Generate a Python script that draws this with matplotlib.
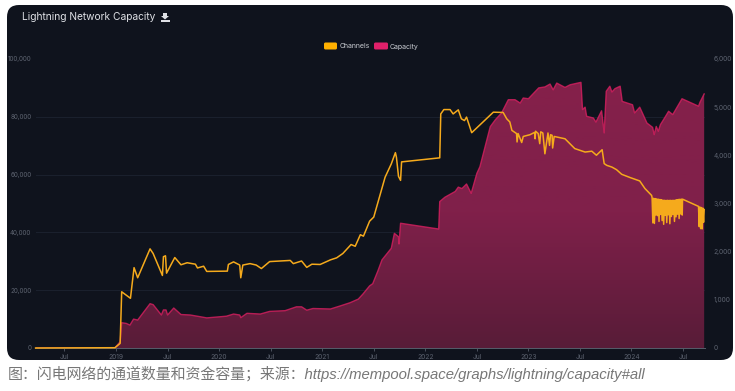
import matplotlib
matplotlib.use('Agg')
import matplotlib.pyplot as plt
import matplotlib.transforms as mtransforms
from matplotlib.colors import LinearSegmentedColormap
from matplotlib.patches import FancyBboxPatch, Polygon
import numpy as np

# decimal years / number of channels
channel_years = [
    2018.22, 2018.99, 2019.04, 2019.055, 2019.14, 2019.175, 2019.21, 2019.33, 2019.36, 2019.45,
    2019.46, 2019.48, 2019.49, 2019.57, 2019.63, 2019.69, 2019.77, 2019.79, 2019.85, 2019.88,
    2020.08, 2020.09, 2020.14, 2020.20, 2020.21, 2020.23, 2020.30, 2020.36, 2020.41, 2020.49,
    2020.69, 2020.72, 2020.80, 2020.85, 2020.90, 2020.98, 2021.08, 2021.14, 2021.20, 2021.28,
    2021.32, 2021.37, 2021.40, 2021.46, 2021.50, 2021.61, 2021.67, 2021.71, 2021.72, 2021.74,
    2021.76, 2021.77, 2022.14, 2022.15, 2022.18, 2022.24, 2022.27, 2022.32, 2022.35, 2022.38,
    2022.40, 2022.45, 2022.66, 2022.755, 2022.79, 2022.82, 2022.84, 2022.885, 2022.89, 2022.90,
    2022.935, 2022.95, 2023.015, 2023.06, 2023.065, 2023.07, 2023.095, 2023.11, 2023.12, 2023.14,
    2023.16, 2023.19, 2023.205, 2023.215, 2023.23, 2023.235, 2023.25, 2023.355, 2023.45, 2023.55,
    2023.615, 2023.66, 2023.715, 2023.735, 2023.76, 2023.81, 2023.855, 2023.905, 2023.985, 2024.08,
    2024.13, 2024.195,
]
channel_values = [
    0, 100, 1600, 19450, 17200, 27800, 24300, 34300, 32700, 25100,
    31600, 31900, 25900, 31300, 28800, 29500, 29000, 27700, 28300, 26500,
    26600, 28900, 29800, 28700, 24300, 28700, 29200, 28700, 27500, 29900,
    30300, 29200, 30100, 27900, 29000, 28900, 30500, 31200, 32700, 35800,
    35200, 39200, 38700, 43900, 45300, 59100, 63700, 67600, 66000, 59400,
    58000, 64400, 65800, 81000, 82500, 82500, 81000, 82400, 79300, 78700,
    79900, 74500, 81600, 81500, 79300, 78200, 75300, 74200, 71300, 74200,
    71100, 73200, 73800, 74600, 72400, 75000, 74200, 70700, 74800, 74400,
    67200, 74400, 70100, 73800, 73600, 69200, 73200, 72400, 69000, 67800,
    68100, 66700, 68600, 63800, 63200, 62600, 61700, 60100, 59000, 57800,
    55200, 52800,
]
# the noisy stretches in 2024
band_years = [
    2024.200, 2024.207, 2024.215, 2024.222, 2024.230, 2024.237, 2024.245, 2024.252, 2024.260, 2024.267,
    2024.275, 2024.282, 2024.290, 2024.297, 2024.305, 2024.312, 2024.320, 2024.327, 2024.335, 2024.342,
    2024.350, 2024.357, 2024.365, 2024.372, 2024.380, 2024.387, 2024.395, 2024.402, 2024.410, 2024.417,
    2024.425, 2024.432, 2024.440, 2024.447, 2024.455, 2024.462, 2024.470, 2024.477, 2024.485, 2024.492,
    2024.495, 2024.650, 2024.657, 2024.664, 2024.671, 2024.678, 2024.685, 2024.692, 2024.699, 2024.705,
]
band_values = [
    52000, 43300, 51800, 43100, 51700, 46000, 51600, 45800, 51500, 43800,
    51400, 46200, 51300, 44100, 51200, 42800, 51100, 45900, 51100, 43400,
    51100, 46100, 51100, 43000, 51100, 45500, 51100, 46200, 51100, 43800,
    51200, 45400, 51300, 46300, 51400, 44800, 51500, 46400, 51500, 46000,
    51500, 49000, 42000, 48800, 41300, 48600, 41200, 48400, 43500, 47900,
]

# capacity in BTC
capacity_years = [
    2018.22, 2018.99, 2019.04, 2019.055, 2019.10, 2019.135, 2019.17, 2019.21, 2019.33, 2019.36,
    2019.44, 2019.46, 2019.485, 2019.50, 2019.56, 2019.63, 2019.72, 2019.815, 2019.88, 2020.07,
    2020.14, 2020.20, 2020.21, 2020.27, 2020.40, 2020.49, 2020.64, 2020.75, 2020.80, 2020.85,
    2020.91, 2021.08, 2021.17, 2021.27, 2021.35, 2021.395, 2021.46, 2021.49, 2021.54, 2021.58,
    2021.67, 2021.70, 2021.74, 2021.745, 2021.76, 2022.13, 2022.14, 2022.19, 2022.29, 2022.32,
    2022.355, 2022.40, 2022.445, 2022.50, 2022.53, 2022.63, 2022.68, 2022.74, 2022.805, 2022.87,
    2022.92, 2022.95, 2023.00, 2023.10, 2023.16, 2023.21, 2023.24, 2023.275, 2023.355, 2023.405,
    2023.51, 2023.525, 2023.55, 2023.565, 2023.63, 2023.655, 2023.71, 2023.735, 2023.755, 2023.79,
    2023.81, 2023.84, 2023.89, 2023.91, 2024.01, 2024.03, 2024.08, 2024.15, 2024.205, 2024.22,
    2024.24, 2024.26, 2024.28, 2024.325, 2024.36, 2024.40, 2024.49, 2024.65, 2024.665, 2024.705,
]
capacity_values = [
    0, 6, 130, 525, 510, 475, 600, 580, 920, 900,
    685, 790, 790, 685, 830, 695, 685, 650, 625, 660,
    705, 685, 630, 720, 705, 760, 775, 855, 855, 785,
    820, 810, 870, 940, 1015, 1120, 1290, 1335, 1600, 1830,
    2070, 2380, 2310, 2160, 2590, 2470, 3040, 3130, 3250, 3340,
    3310, 3405, 3210, 3625, 3765, 4595, 4740, 4880, 5155, 5155,
    5085, 5190, 5175, 5400, 5420, 5480, 5360, 5500, 5410, 5465,
    5515, 4950, 5000, 4810, 4775, 4690, 4925, 4465, 5330, 5435,
    5315, 5385, 5435, 5120, 5050, 4880, 5000, 4670, 4580, 4430,
    4600, 4500, 4635, 4790, 4915, 4845, 5175, 5020, 5105, 5275,
]

x_ticks = [2018.5, 2019, 2019.5, 2020, 2020.5, 2021, 2021.5, 2022, 2022.5, 2023, 2023.5, 2024, 2024.5]
x_labels = ['Jul', '2019', 'Jul', '2020', 'Jul', '2021', 'Jul', '2022', 'Jul', '2023', 'Jul', '2024', 'Jul']
channel_ticks = [0, 20000, 40000, 60000, 80000, 100000]
capacity_ticks = [0, 1000, 2000, 3000, 4000, 5000, 6000]

BG = '#0f131d'
TICK_COLOR = '#5d6370'
YELLOW = '#f5aa1c'
PINK = '#d81f60'
W, H = 735, 391

plt.rcParams['font.family'] = ['Inter', 'DejaVu Sans']

fig = plt.figure(figsize=(W / 100, H / 100), dpi=100, facecolor='white')
# pixel coordinates, y going down like in the screenshot
px = mtransforms.Affine2D().scale(1, -1).translate(0, H)

fig.add_artist(FancyBboxPatch((7 + 12, 5 + 12), 726 - 24, 355 - 24, boxstyle='round,pad=12,rounding_size=12',
                              transform=px, fc=BG, ec='none', zorder=-5))

ax_cap = fig.add_axes([35.5 / W, 1 - 348 / H, (705 - 35.5) / W, (348 - 59) / H])
ax_cap.patch.set_alpha(0)
ax_chan = ax_cap.twinx()
ax_chan.patch.set_alpha(0)

# capacity area with a vertical gradient
cmap = LinearSegmentedColormap.from_list('cap', ['#581c38', '#80204a', '#85204a'])
grad = ax_cap.imshow(np.linspace(0, 1, 256).reshape(-1, 1), cmap=cmap, origin='lower', aspect='auto',
                     extent=(2018, 2025, 0, 5600), zorder=2)
poly = Polygon(np.column_stack([[capacity_years[0]] + capacity_years + [capacity_years[-1]],
                                [0] + capacity_values + [0]]),
               closed=True, transform=ax_cap.transData, fc='none', ec='none')
ax_cap.add_patch(poly)
grad.set_clip_path(poly)
ax_cap.plot(capacity_years, capacity_values, color=PINK, lw=1.0, alpha=0.8, zorder=3)

ax_chan.plot(channel_years + band_years, channel_values + band_values, color=YELLOW, lw=1.1, zorder=4,
             solid_joinstyle='round', clip_on=False)

ax_cap.set_xlim(2018.219, 2024.713)
ax_cap.set_ylim(0, 6000)
ax_chan.set_ylim(0, 100000)

ax_cap.set_xticks(x_ticks)
ax_cap.set_xticklabels(x_labels)
ax_cap.set_yticks(capacity_ticks)
ax_cap.set_yticklabels([f'{v:,}' for v in capacity_ticks])
ax_cap.yaxis.tick_right()
ax_chan.yaxis.tick_left()
ax_chan.set_yticks(channel_ticks)
ax_chan.set_yticklabels([f'{v:,}' for v in channel_ticks])

# the grid follows the channels axis but sits behind the area
ax_cap.set_yticks([v * 6000 / 100000 for v in channel_ticks], minor=True)
ax_cap.grid(True, which='minor', axis='y', color='#1b212e', lw=0.7, zorder=1)
ax_cap.set_axisbelow(True)
ax_cap.tick_params(axis='y', which='both', length=0, labelsize=4.8, labelcolor=TICK_COLOR, pad=6)
ax_chan.tick_params(axis='y', length=0, labelsize=4.5, labelcolor=TICK_COLOR, pad=3)
ax_cap.tick_params(axis='x', length=2, width=0.6, color='#555b68', labelsize=4.8, labelcolor=TICK_COLOR, pad=2)

for ax in (ax_cap, ax_chan):
    for name, spine in ax.spines.items():
        spine.set_visible(name == 'bottom')
        spine.set_color('#555b68')
        spine.set_linewidth(0.7)

fig.text(22 / W, 1 - 17 / H, 'Lightning Network Capacity', color='#dfe1e6', fontsize=7.35, va='center', ha='left')

# download icon next to the title
fig.add_artist(Polygon([(163, 13), (167, 13), (167, 16), (169, 16), (165, 19.5), (161, 16), (163, 16)],
                       closed=True, transform=px, fc='#dfe1e6', ec='none'))
fig.add_artist(Polygon([(161, 20), (170, 20), (170, 21.5), (161, 21.5)],
                       closed=True, transform=px, fc='#dfe1e6', ec='none'))

# legend swatches
for left, width, color in [(324, 13, '#ffb000'), (374, 14, '#e0206a')]:
    fig.add_artist(FancyBboxPatch((left + 1.5, 44), width - 3, 4, boxstyle='round,pad=1.5,rounding_size=1.5',
                                  transform=px, fc=color, ec='none'))
fig.text(340 / W, 1 - 46.5 / H, 'Channels', color='#c9ccd2', fontsize=5, va='center', ha='left')
fig.text(390 / W, 1 - 46.5 / H, 'Capacity', color='#c9ccd2', fontsize=5, va='center', ha='left')

fig.text(8 / W, 1 - 374 / H,
         '图：闪电网络的通道数量和资金容量；来源：https://mempool.space/graphs/lightning/capacity#all',
         color='#777777', fontsize=10.75, style='italic', va='center', ha='left',
         family=['Liberation Sans', 'Noto Sans CJK SC'])

fig.savefig('out.png', dpi=100, facecolor='white')
